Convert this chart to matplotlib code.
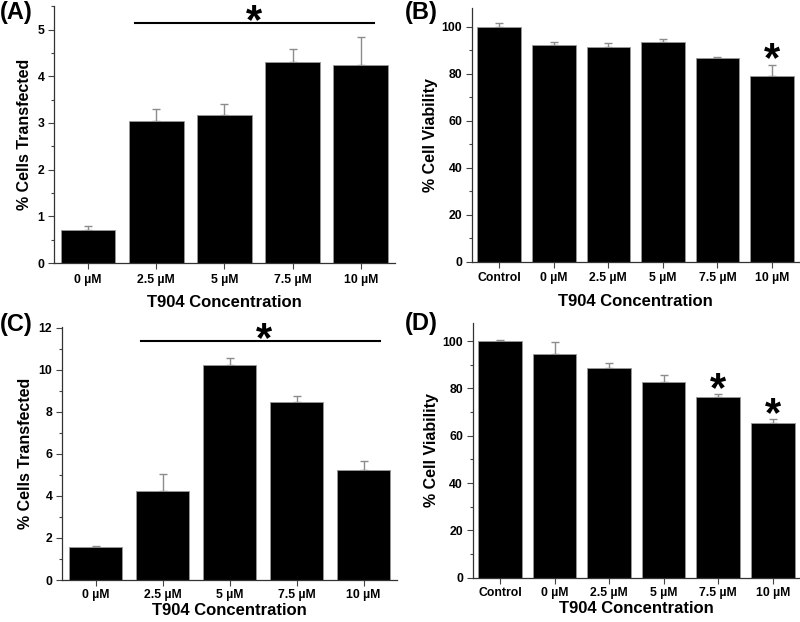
import matplotlib
matplotlib.use("Agg")
import matplotlib.pyplot as plt
from matplotlib.ticker import MultipleLocator

plt.rcParams['font.family'] = ['Liberation Sans', 'DejaVu Sans']
plt.rcParams['font.weight'] = 'bold'

conc_labels = ["0 µM", "2.5 µM", "5 µM", "7.5 µM", "10 µM"]
via_labels = ["Control", "0 µM", "2.5 µM", "5 µM", "7.5 µM", "10 µM"]

a_vals = [0.71, 3.04, 3.17, 4.31, 4.25]
a_err = [0.09, 0.25, 0.24, 0.28, 0.59]
b_vals = [100.0, 92.2, 91.6, 93.5, 86.8, 78.9]
b_err = [1.8, 1.5, 1.7, 1.4, 0.4, 4.9]
c_vals = [1.56, 4.25, 10.2, 8.46, 5.21]
c_err = [0.06, 0.80, 0.36, 0.30, 0.44]
d_vals = [100.0, 94.6, 88.7, 82.8, 76.5, 65.2]
d_err = [0.4, 5.0, 1.9, 2.8, 1.3, 1.7]

fig = plt.figure(figsize=(8.0, 6.22), dpi=100)

def panel(rect, labels, vals, errs, ylim, major, ylabel, xpad, xlabpad, ylabpad):
    ax = fig.add_axes(rect)
    x = list(range(len(labels)))
    ax.bar(x, vals, width=0.8, color='black', edgecolor='#999999', linewidth=0.6, zorder=2)
    ax.errorbar(x, vals, yerr=[[0]*len(errs), errs], fmt='none', ecolor='#8c8c8c',
                elinewidth=1.0, capsize=3, capthick=1.0, zorder=1)
    ax.set_xlim(-0.5, len(labels) - 0.5)
    ax.set_ylim(*ylim)
    ax.set_xticks(x)
    ax.set_xticklabels(labels, fontsize=8.8, fontweight='bold')
    ax.yaxis.set_major_locator(MultipleLocator(major))
    ax.yaxis.set_minor_locator(MultipleLocator(major / 2))
    for t in ax.get_yticklabels():
        t.set_fontsize(8.8)
        t.set_fontweight('bold')
    ax.tick_params(axis='x', which='major', direction='out', length=4, width=0.8, color='#444444', pad=xpad)
    ax.tick_params(axis='y', which='major', direction='out', length=4, width=0.8, color='#444444', pad=3)
    ax.tick_params(axis='y', which='minor', direction='out', length=2.5, width=0.8, color='#444444')
    for s in ['top', 'right']:
        ax.spines[s].set_visible(False)
    for s in ['left', 'bottom']:
        ax.spines[s].set_color('#333333')
        ax.spines[s].set_linewidth(0.9)
    ax.set_xlabel("T904 Concentration", fontsize=12, fontweight='bold', labelpad=xlabpad)
    ax.set_ylabel(ylabel, fontsize=11.5, fontweight='bold', labelpad=ylabpad)
    return ax

axA = panel([0.0675, 0.577, 0.426, 0.413], conc_labels, a_vals, a_err, (0, 5.5), 1,
            "% Cells Transfected", 3.5, 7, 4)
axB = panel([0.590, 0.579, 0.409, 0.408], via_labels, b_vals, b_err, (0, 108), 20,
            "% Cell Viability", 3.5, 7, 2.5)
axC = panel([0.0775, 0.0675, 0.419, 0.4075], conc_labels, c_vals, c_err, (0, 12.05), 2,
            "% Cells Transfected", 2.5, 1.5, 4)
axD = panel([0.591, 0.071, 0.409, 0.410], via_labels, d_vals, d_err, (0, 107.7), 20,
            "% Cell Viability", 2.5, 1.5, 2.5)

star_kw = dict(fontsize=30, fontweight='bold', ha='center', va='center', color='black')

axA.plot([0.69, 4.19], [5.14, 5.14], color='black', lw=1.5, clip_on=False)
axA.text(2.44, 5.16, "*", clip_on=False, **star_kw)
axC.plot([0.68, 4.24], [11.37, 11.37], color='black', lw=1.5, clip_on=False)
axC.text(2.52, 11.43, "*", clip_on=False, **star_kw)
axB.text(5, 85.8, "*", clip_on=False, **star_kw)
axD.text(4, 79.3, "*", clip_on=False, **star_kw)
axD.text(5, 68.7, "*", clip_on=False, **star_kw)

lab_kw = dict(fontsize=17, fontweight='bold', ha='left', va='top')
fig.text(0.0, 0.999, "(A)", **lab_kw)
fig.text(0.506, 0.999, "(B)", **lab_kw)
fig.text(0.0, 0.496, "(C)", **lab_kw)
fig.text(0.506, 0.499, "(D)", **lab_kw)

fig.savefig("out.png", dpi=100)
